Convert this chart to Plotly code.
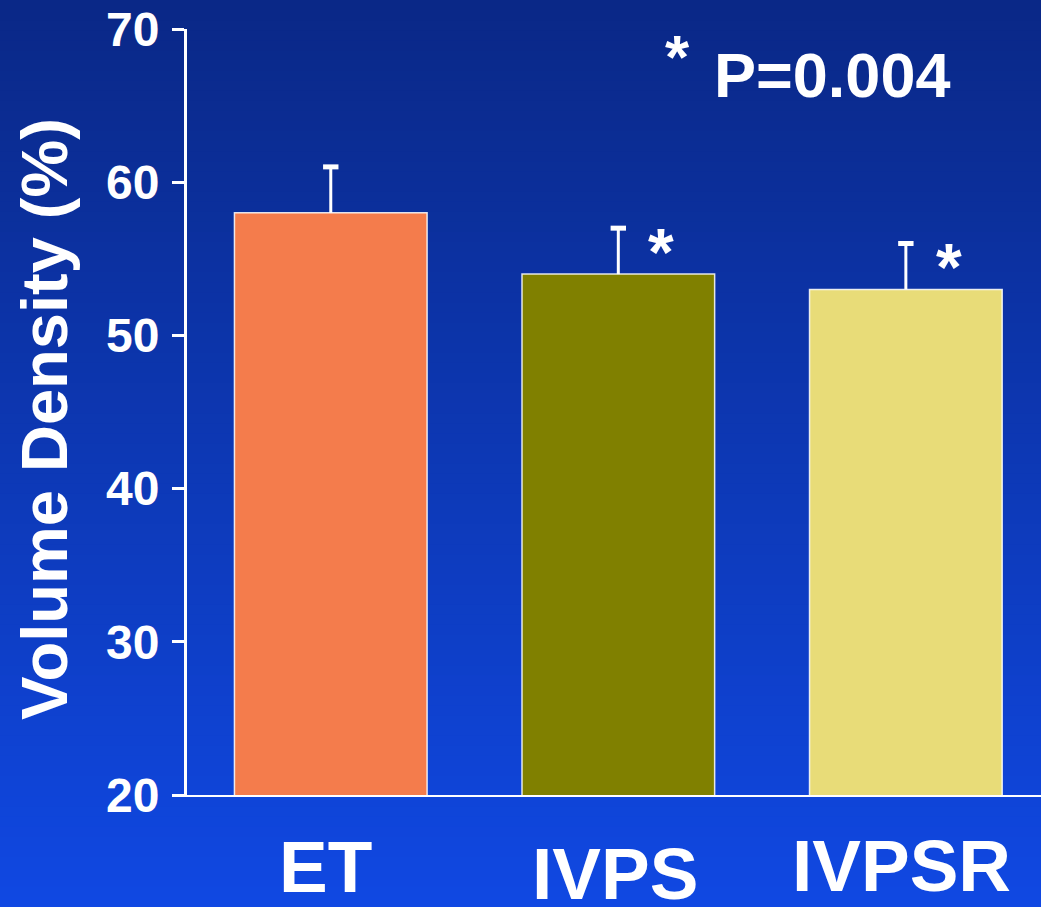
import plotly.graph_objects as go

categories = ["ET", "IVPS", "IVPSR"]
values = [58, 54, 53]
errors = [3, 3, 3]
colors = ["#F47C4C", "#808000", "#E8DC78"]
y_ticks = [20, 30, 40, 50, 60, 70]
sig_flags = [False, True, True]
p_star = "*"
p_text = "P=0.004"

W, H = 1041, 907
FONT = "Liberation Sans, Arial, sans-serif"
fig = go.Figure()

xs = list(range(len(categories)))
fig.add_trace(go.Bar(
    x=xs, y=values, base=0,
    marker=dict(color=colors, line=dict(color="rgba(255,255,255,0.85)", width=1.5)),
    width=0.67, hoverinfo="skip",
))

# upper-only error bars: stem + cap
ex, ey = [], []
for x, v, e in zip(xs, values, errors):
    ex += [x, x, None]
    ey += [v, v + e, None]
fig.add_trace(go.Scatter(x=ex, y=ey, mode="lines", line=dict(color="white", width=3),
                         hoverinfo="skip"))
fig.add_trace(go.Scatter(x=xs, y=[v + e for v, e in zip(values, errors)], mode="markers",
                         marker=dict(symbol="line-ew", size=11,
                                     line=dict(color="white", width=5)),
                         hoverinfo="skip"))

# gradient background bands
top = (10, 40, 135)
bot = (16, 72, 226)
n = 90
shapes = []
for i in range(n):
    t = i / (n - 1)
    c = tuple(round(top[k] + (bot[k] - top[k]) * t) for k in range(3))
    y1 = 1 - i / n
    y0 = 1 - (i + 1) / n - 0.002
    shapes.append(dict(type="rect", xref="paper", yref="paper", x0=0, x1=1, y0=y0, y1=y1,
                       fillcolor="rgb(%d,%d,%d)" % c, line=dict(width=0), layer="below"))

x0p = 187 / W
y_bot = (H - 795) / H
y_top = (H - 29) / H

def px(x):
    return x / W

def py(y):
    return (H - y) / H

annotations = []
# x category labels (centre x, cap-centre y in pixels)
label_pos = [(325, 867), (615, 874), (901, 866)]
for c, (lx, ly) in zip(categories, label_pos):
    annotations.append(dict(x=px(lx), xref="paper", y=py(ly), yref="paper", text="<b>%s</b>" % c,
                            showarrow=False, xanchor="center", yanchor="middle", yshift=1,
                            font=dict(family=FONT, size=73, color="white")))
# significance stars
for i, f in enumerate(sig_flags):
    if f:
        annotations.append(dict(x=i + 0.15, xref="x", y=values[i] + errors[i], yref="y",
                                text="<b>*</b>", showarrow=False, xanchor="center", yanchor="middle",
                                yshift=-24,
                                font=dict(family=FONT, size=66, color="white")))
annotations.append(dict(x=px(677), xref="paper", y=py(56), yref="paper", text="<b>%s</b>" % p_star,
                        showarrow=False, xanchor="center", yanchor="middle",
                        font=dict(family=FONT, size=62, color="white")))
annotations.append(dict(x=px(712), xref="paper", y=py(71), yref="paper", text="<b>%s</b>" % p_text,
                        showarrow=False, xanchor="left", yanchor="middle", yshift=-4,
                        font=dict(family=FONT, size=63, color="white")))
annotations.append(dict(x=px(44), xref="paper", y=py(419), yref="paper",
                        text="<b>Volume Density (%)</b>", textangle=-90, showarrow=False,
                        xanchor="center", yanchor="middle",
                        font=dict(family=FONT, size=65, color="white")))

fig.update_layout(
    width=W, height=H,
    margin=dict(l=0, r=0, t=0, b=0, pad=0),
    autosize=False,
    paper_bgcolor="rgb(13,56,180)",
    plot_bgcolor="rgba(0,0,0,0)",
    shapes=shapes,
    annotations=annotations,
    showlegend=False,
    xaxis=dict(domain=[x0p, 1], range=[-0.5, 2.47], showticklabels=False, ticks="",
               showgrid=False, zeroline=False, showline=True, linecolor="white", linewidth=2,
               automargin=False),
    yaxis=dict(domain=[y_bot, y_top], range=[20, 70], tickvals=y_ticks,
               ticktext=["<b>%d</b>" % v for v in y_ticks],
               ticks="outside", ticklen=12, tickwidth=3, tickcolor="white",
               showgrid=False, zeroline=False, showline=True, linecolor="white", linewidth=3,
               ticklabelstandoff=3, automargin=False,
               tickfont=dict(family=FONT, size=48, color="white")),
)

fig.write_html("out.html", config={"displayModeBar": False},
               post_script="document.body.style.margin='0';document.body.style.padding='0';"
                           "document.body.style.overflow='hidden';")
